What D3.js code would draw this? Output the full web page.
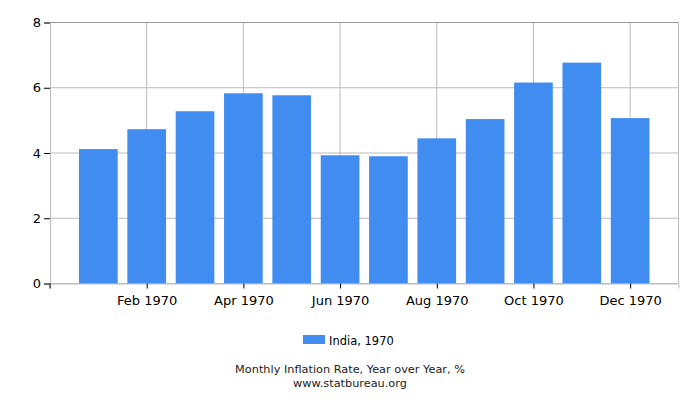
<!DOCTYPE html>
<html>
<head>
<meta charset="utf-8">
<script src="https://cdn.jsdelivr.net/npm/d3@7"></script>
<style>
  body { margin: 0; background: #fff; }
  svg { font-family: "DejaVu Sans", sans-serif; }
</style>
</head>
<body>
<div id="chart"></div>
<script>
const months = [1, 2, 3, 4, 5, 6, 7, 8, 9, 10, 11, 12];
const values = [4.12, 4.73, 5.28, 5.83, 5.77, 3.93, 3.90, 4.45, 5.04, 6.16, 6.77, 5.07];
const xTicks = [2, 4, 6, 8, 10, 12];
const xTickLabels = ["Feb 1970", "Apr 1970", "Jun 1970", "Aug 1970", "Oct 1970", "Dec 1970"];
const yTicks = [0, 2, 4, 6, 8];
const seriesName = "India, 1970";
const title = "Monthly Inflation Rate, Year over Year, %";
const source = "www.statbureau.org";

const W = 700, H = 400;
const margin = { top: 22.5, right: 21.5, bottom: 116.5, left: 50 };
const width = W - margin.left - margin.right;
const height = H - margin.top - margin.bottom;

const svg = d3.select("#chart").append("svg")
    .attr("width", W).attr("height", H);

const g = svg.append("g")
    .attr("transform", `translate(${margin.left},${margin.top})`);

const x = d3.scaleLinear().domain([0, 13]).range([0, width]);
const y = d3.scaleLinear().domain([0, 8]).range([height, 0]);
const barW = (x(1) - x(0)) * 0.8;

// grid
g.selectAll(".hgrid").data(yTicks).enter().append("line")
    .attr("x1", 0).attr("x2", width)
    .attr("y1", d => y(d)).attr("y2", d => y(d))
    .attr("stroke", "#bbb").attr("stroke-width", 1);

g.selectAll(".vgrid").data(xTicks).enter().append("line")
    .attr("x1", d => x(d)).attr("x2", d => x(d))
    .attr("y1", 0).attr("y2", height)
    .attr("stroke", "#bbb").attr("stroke-width", 1);

// border
g.append("line").attr("x1", width).attr("x2", width).attr("y1", 0).attr("y2", height)
    .attr("stroke", "#bbb");
g.append("line").attr("x1", 0).attr("x2", width).attr("y1", 0).attr("y2", 0)
    .attr("stroke", "#999");

// bars
g.selectAll(".bar").data(months).enter().append("rect")
    .attr("x", (d, i) => x(d) - barW / 2)
    .attr("y", (d, i) => y(values[i]))
    .attr("width", barW)
    .attr("height", (d, i) => height - y(values[i]))
    .attr("fill", "#418cf0");

// y axis
const yAxis = g.append("g")
    .call(d3.axisLeft(y).tickValues(yTicks).tickSize(6).tickPadding(3).tickFormat(d3.format("d")));
yAxis.select(".domain").attr("stroke", "#bbb");
yAxis.selectAll(".tick line").attr("stroke", "#000");
yAxis.selectAll("text").attr("font-size", 13).attr("fill", "#000")
    .attr("font-family", "DejaVu Sans, sans-serif");

// x axis
const xAxis = g.append("g")
    .attr("transform", `translate(0,${height})`)
    .call(d3.axisBottom(x).tickValues(xTicks).tickSize(5).tickPadding(7)
        .tickFormat((d, i) => xTickLabels[i]));
xAxis.select(".domain").attr("stroke", "#bbb");
xAxis.selectAll(".tick line").attr("stroke", "#000");
xAxis.selectAll("text").attr("font-size", 13).attr("fill", "#000")
    .attr("font-family", "DejaVu Sans, sans-serif");

// left tick at origin
g.append("line").attr("x1", 0).attr("x2", 0).attr("y1", height).attr("y2", height + 5)
    .attr("stroke", "#000");

// legend
svg.append("rect").attr("x", 303).attr("y", 335).attr("width", 22).attr("height", 9)
    .attr("fill", "#418cf0");
svg.append("text").attr("x", 329).attr("y", 345)
    .attr("font-size", 11.5).attr("fill", "#000").text(seriesName);

// title
svg.append("text").attr("x", 350).attr("y", 373).attr("text-anchor", "middle")
    .attr("font-size", 11.3).attr("fill", "#222").text(title);
svg.append("text").attr("x", 350).attr("y", 386.5).attr("text-anchor", "middle")
    .attr("font-size", 11.3).attr("fill", "#222").text(source);
</script>
</body>
</html>
